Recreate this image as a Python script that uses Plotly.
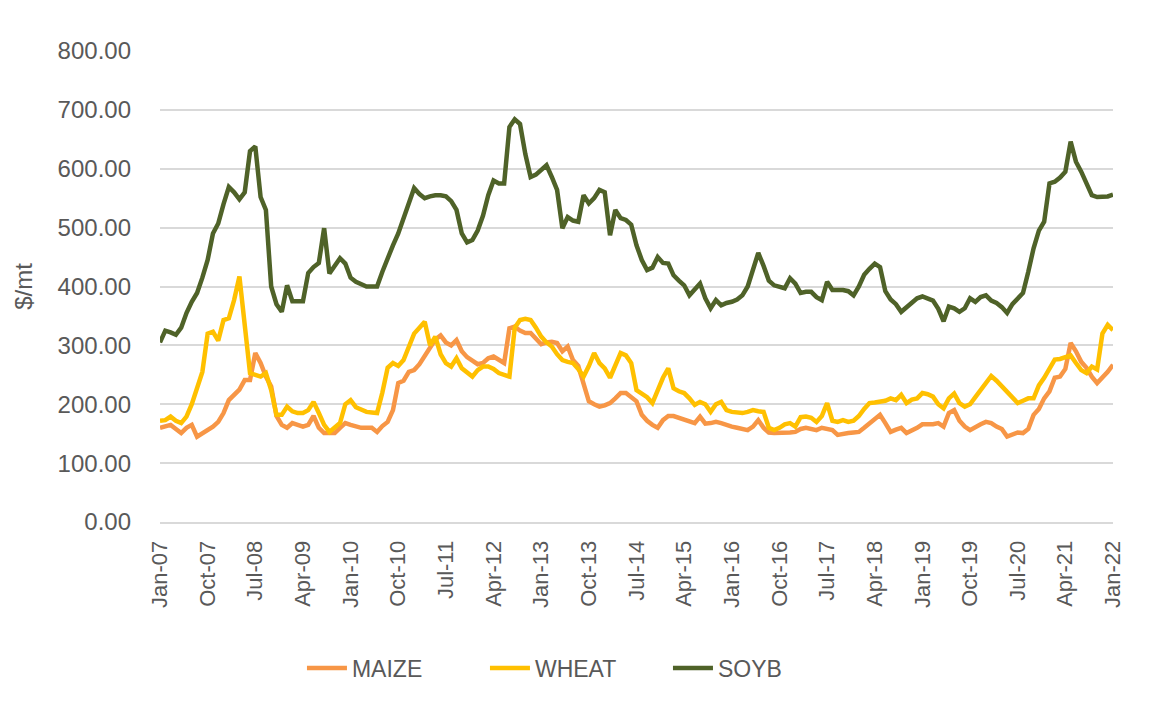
import pandas as pd
import plotly.graph_objects as go

# Monthly categories Jan-07 .. Jan-22
months = [d.strftime("%b-%y") for d in pd.date_range("2007-01-01", "2022-01-01", freq="MS")]

maize = [
    160, 162, 165, 158, 151, 160, 165, 145, 150, 155, 162, 170,   # 2007
    185, 207, 215, 225, 241, 241, 287, 270, 247, 230, 180, 165,   # 2008
    160, 168, 165, 162, 165, 180, 160, 151, 151, 151, 160, 168,   # 2009
    165, 163, 160, 160, 160, 153, 163, 170, 190, 236, 240, 255,   # 2010
    258, 268, 281, 295, 310, 317, 305, 300, 309, 290, 280, 274,   # 2011
    268, 270, 278, 281, 275, 270, 329, 332, 325, 321, 321, 312,   # 2012
    302, 305, 306, 304, 290, 298, 275, 265, 232, 205, 200, 196,   # 2013
    198, 202, 210, 219, 219, 213, 205, 182, 172, 165, 160, 173,   # 2014
    180, 180, 177, 175, 173, 168, 179, 167, 168, 170, 168, 164,   # 2015
    162, 160, 158, 156, 162, 173, 160, 152, 151, 151, 151, 152,   # 2016
    153, 158, 160, 158, 156, 160, 158, 156, 148, 150, 151, 152,   # 2017
    153, 160, 167, 173, 182, 168, 153, 157, 160, 151, 155, 160,   # 2018
    166, 166, 166, 168, 162, 185, 190, 172, 162, 156, 162, 166,   # 2019
    170, 168, 162, 158, 145, 148, 152, 151, 158, 182, 192, 210,   # 2020
    222, 245, 247, 260, 304, 290, 272, 262, 247, 236, 245, 255,   # 2021
    267,                                                          # 2022
]

wheat = [
    172, 173, 179, 172, 168, 179, 200, 230, 255, 320, 323, 308,   # 2007
    343, 346, 377, 417, 340, 253, 250, 247, 253, 224, 182, 182,   # 2008
    196, 188, 185, 185, 190, 204, 185, 165, 153, 160, 168, 200,   # 2009
    207, 195, 190, 187, 186, 185, 220, 262, 270, 265, 275, 300,   # 2010
    320, 330, 340, 300, 315, 285, 270, 264, 278, 261, 255, 247,   # 2011
    258, 264, 264, 260, 253, 250, 247, 330, 343, 345, 343, 330,   # 2012
    315, 305, 298, 285, 275, 272, 270, 260, 247, 265, 287, 270,   # 2013
    261, 245, 265, 287, 283, 270, 224, 219, 212, 202, 225, 245,   # 2014
    261, 227, 222, 219, 210, 199, 204, 200, 187, 200, 204, 190,   # 2015
    187, 186, 185, 187, 190, 188, 187, 160, 156, 160, 166, 168,   # 2016
    162, 178, 179, 177, 170, 180, 202, 172, 170, 173, 170, 172,   # 2017
    180, 192, 202, 203, 204, 206, 210, 207, 216, 202, 208, 210,   # 2018
    219, 217, 213, 200, 193, 210, 218, 202, 196, 200, 212, 224,   # 2019
    236, 248, 240, 230, 222, 212, 202, 206, 210, 210, 232, 245,   # 2020
    262, 276, 277, 280, 283, 270, 258, 253, 264, 259, 320, 335,   # 2021
    326,                                                          # 2022
]

soyb = [
    305, 325, 322, 318, 330, 355, 374, 389, 415, 445, 490, 507,   # 2007
    540, 569, 560, 548, 560, 630, 638, 552, 530, 400, 370, 357,   # 2008
    402, 375, 375, 375, 423, 433, 440, 499, 422, 435, 448, 439,   # 2009
    415, 408, 405, 400, 400, 400, 425, 450, 470, 490, 515, 545,   # 2010
    567, 557, 550, 553, 555, 555, 553, 545, 530, 490, 475, 479,   # 2011
    495, 520, 555, 580, 575, 575, 671, 684, 676, 625, 586, 590,   # 2012
    598, 606, 586, 564, 499, 518, 512, 510, 555, 541, 550, 564,   # 2013
    560, 487, 530, 516, 513, 505, 470, 445, 428, 432, 450, 440,   # 2014
    439, 419, 410, 402, 385, 395, 405, 380, 363, 377, 368, 372,   # 2015
    374, 378, 385, 400, 428, 457, 435, 410, 402, 400, 397, 414,   # 2016
    405, 389, 391, 391, 382, 377, 408, 394, 394, 394, 392, 385,   # 2017
    400, 420, 430, 439, 433, 392, 378, 370, 357, 365, 372, 380,   # 2018
    383, 380, 376, 362, 341, 366, 363, 357, 363, 380, 374, 382,   # 2019
    385, 376, 372, 365, 355, 370, 380, 389, 425, 465, 495, 510,   # 2020
    575, 578, 585, 595, 646, 612, 595, 575, 555, 552, 552, 553,   # 2021
    556,                                                          # 2022
]

tick_labels = ["Jan-07", "Oct-07", "Jul-08", "Apr-09", "Jan-10", "Oct-10", "Jul-11",
               "Apr-12", "Jan-13", "Oct-13", "Jul-14", "Apr-15", "Jan-16", "Oct-16",
               "Jul-17", "Apr-18", "Jan-19", "Oct-19", "Jul-20", "Apr-21", "Jan-22"]

series = [("MAIZE", maize, "#F79646"), ("WHEAT", wheat, "#FFC000"), ("SOYB", soyb, "#4F6228")]

FONT = "Liberation Sans, Arial, sans-serif"
GRAY = "#595959"

fig = go.Figure()
for name, vals, col in series:
    fig.add_trace(go.Scatter(x=months, y=vals, name=name, mode="lines",
                             line=dict(color=col, width=4.5)))

fig.update_layout(
    width=1153, height=710,
    margin=dict(l=160, r=40, t=51, b=188),
    paper_bgcolor="white", plot_bgcolor="white",
    font=dict(family=FONT, color=GRAY, size=22),
    showlegend=True,
    legend=dict(orientation="h", x=0.437, xanchor="center", y=-0.31, yanchor="middle",
                font=dict(size=23, color=GRAY), itemwidth=40,
                entrywidth=128, entrywidthmode="pixels",
                traceorder="normal"),
)
fig.update_xaxes(type="category", range=[0, len(months) - 1],
                 tickmode="array", tickvals=tick_labels, ticktext=tick_labels,
                 tickangle=-90, tickfont=dict(size=22, color=GRAY),
                 ticklabelstandoff=8,
                 showgrid=False, showline=True, linecolor="#D9D9D9", linewidth=2,
                 ticks="", zeroline=False)
fig.update_yaxes(range=[0, 800], dtick=100, tickformat=".2f",
                 tickfont=dict(size=24, color=GRAY),
                 ticklabelstandoff=28,
                 gridcolor="#D9D9D9", gridwidth=2, zeroline=False, showline=False,
                 ticks="", ticklen=0,
                 title=dict(text="$/mt", font=dict(size=24, color=GRAY), standoff=18))

fig.write_html("out.html")
